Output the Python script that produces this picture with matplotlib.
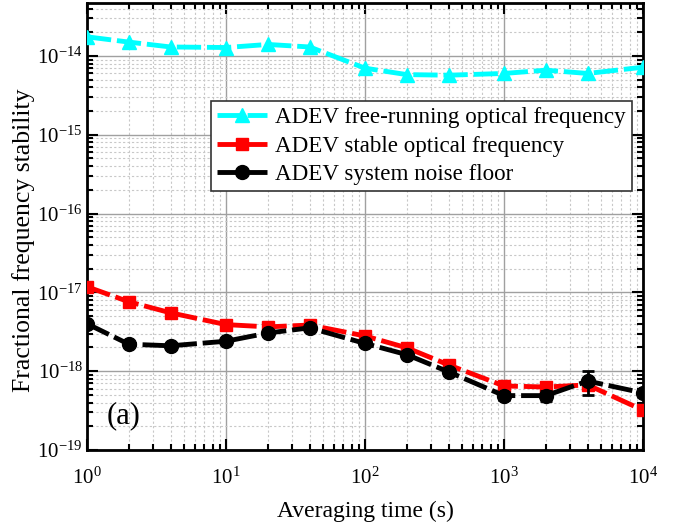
import matplotlib
matplotlib.use("Agg")
import matplotlib.pyplot as plt
from matplotlib.ticker import LogLocator, NullFormatter

plt.rcParams['font.family'] = ['Liberation Serif', 'DejaVu Serif']
plt.rcParams['mathtext.fontset'] = 'custom'
plt.rcParams['mathtext.rm'] = 'Liberation Serif'

tau = [1, 2, 4, 10, 20, 40, 100, 200, 400, 1000, 2000, 4000, 10000]
adev_free = [1.75e-14, 1.5e-14, 1.3e-14, 1.28e-14, 1.4e-14, 1.3e-14, 7.0e-15,
             5.8e-15, 5.7e-15, 6.0e-15, 6.6e-15, 6.0e-15, 7.2e-15]
adev_stable = [1.18e-17, 7.6e-18, 5.5e-18, 3.9e-18, 3.65e-18, 3.85e-18, 2.8e-18,
               1.98e-18, 1.2e-18, 6.5e-19, 6.3e-19, 6.7e-19, 3.2e-19]
adev_floor = [4.0e-18, 2.2e-18, 2.1e-18, 2.4e-18, 3.05e-18, 3.55e-18, 2.25e-18,
              1.62e-18, 9.8e-19, 4.9e-19, 4.9e-19, 7.5e-19, 5.3e-19]
floor_err = [0, 0, 0, 0, 0, 0, 0, 0, 0, 0.6e-19, 0.7e-19, 2.5e-19, 0.6e-19]
xticks = [1, 10, 100, 1000, 10000]
yticks = [1e-19, 1e-18, 1e-17, 1e-16, 1e-15, 1e-14]

fig = plt.figure(figsize=(6.74, 5.22), dpi=100)
ax = fig.add_axes([87/674, 72/522, 556/674, 447/522])

dash = (5, 1.2)
ax.plot(tau, adev_free, color='#00ffff', marker='^', ms=10, lw=3.5,
        dashes=dash, label='ADEV free-running optical frequency', zorder=3)
ax.plot(tau, adev_stable, color='red', marker='s', ms=9, lw=3.5,
        dashes=dash, label='ADEV stable optical frequency', zorder=3)
ax.errorbar(tau, adev_floor, yerr=floor_err, fmt='none', ecolor='black',
            capsize=4, elinewidth=2, capthick=2, zorder=4)
ax.plot(tau, adev_floor, color='black', marker='o', ms=10, lw=3.5,
        dashes=dash, label='ADEV system noise floor', zorder=4)

ax.set_xscale('log')
ax.set_yscale('log')
ax.set_xlim(1, 1e4)
ax.set_ylim(1e-19, 4.7e-14)

ax.set_xticks(xticks)
ax.set_yticks(yticks)
ax.xaxis.set_minor_locator(LogLocator(base=10, subs=range(2, 10), numticks=10))
ax.yaxis.set_minor_locator(LogLocator(base=10, subs=range(2, 10), numticks=10))
ax.xaxis.set_minor_formatter(NullFormatter())
ax.yaxis.set_minor_formatter(NullFormatter())

ax.grid(which='major', color='#a0a0a0', lw=1, ls='-')
ax.grid(which='minor', color='#c8c8c8', lw=0.8, ls=(0, (2, 2)))
ax.tick_params(which='both', direction='in', top=True, right=True,
               labelsize=15, width=1.5)
ax.tick_params(which='major', length=8)
ax.tick_params(which='minor', length=4)
ax.tick_params(axis='x', which='major', pad=13)
ax.tick_params(axis='y', which='major', pad=3)
for s in ax.spines.values():
    s.set_linewidth(2)

ax.set_xlabel('Averaging time (s)', fontsize=17, labelpad=8)
ax.set_ylabel('Fractional frequency stability', fontsize=18.5)
ax.yaxis.set_label_coords(-0.0935, 0.47)
ax.text(0.035, 0.06, '(a)', transform=ax.transAxes, fontsize=22)

leg = ax.legend(loc='upper right', bbox_to_anchor=(0.98, 0.78), fontsize=16.6,
                frameon=True, fancybox=False, framealpha=1, edgecolor='#333333',
                handlelength=2.2, handletextpad=0.35, borderpad=0.25,
                labelspacing=0.32, borderaxespad=0)
leg.get_frame().set_linewidth(1.2)

fig.savefig('out.png', dpi=100)
